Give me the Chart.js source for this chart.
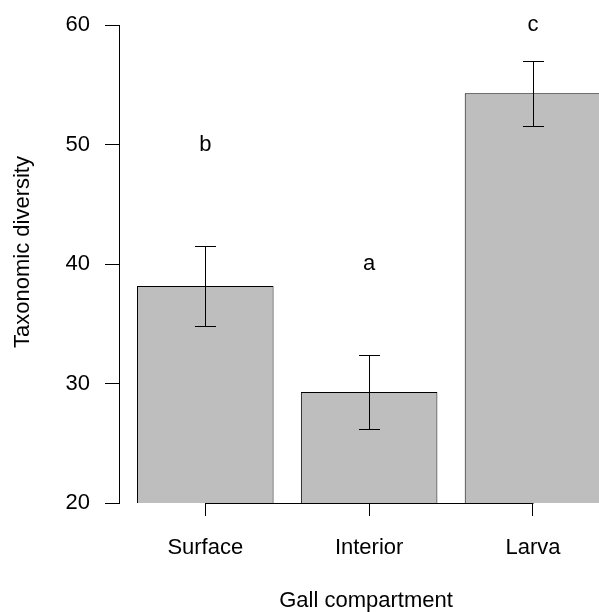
<!DOCTYPE html>
<html>
<head>
<meta charset="utf-8">
<script src="https://cdn.jsdelivr.net/npm/chart.js@4/dist/chart.umd.min.js"></script>
<style>
  html, body { margin: 0; padding: 0; background: #fff; }
  #wrap { width: 599px; height: 612px; }
</style>
</head>
<body>
<div id="wrap"><canvas id="c" width="599" height="612"></canvas></div>
<script>
// ---- data ----
const categories = ["Surface", "Interior", "Larva"];
const meanDiversity = [38.16, 29.29, 54.28];
const seDiversity = [3.32, 3.12, 2.72];
const groupLetters = ["b", "a", "c"];
const letterHeights = [50, 40, 60];
const yTicks = [20, 30, 40, 50, 60];
const xTitle = "Gall compartment";
const yTitle = "Taxonomic diversity";

// R barplot layout: width 1, space 0.2
const barPos = categories.map((c, i) => 0.7 + 1.2 * i);
const FONT = "'Liberation Sans', Arial, Helvetica, sans-serif";
const FS = 22;

const extras = {
  id: 'extras',
  afterDatasetsDraw(chart) {
    const ctx = chart.ctx;
    const xs = chart.scales.x, ys = chart.scales.y;
    ctx.save();
    ctx.strokeStyle = '#000';
    ctx.lineWidth = 1;
    // x axis line from first to last tick (R style)
    const yb = Math.round(ys.getPixelForValue(yTicks[0])) + 0.5;
    ctx.beginPath();
    ctx.moveTo(Math.round(xs.getPixelForValue(barPos[0])) + 0.5, yb);
    ctx.lineTo(Math.round(xs.getPixelForValue(barPos[barPos.length - 1])) + 0.5, yb);
    ctx.stroke();
    // error bars
    meanDiversity.forEach((m, i) => {
      const x = Math.round(xs.getPixelForValue(barPos[i])) + 0.5;
      const yt = Math.round(ys.getPixelForValue(m + seDiversity[i])) + 0.5;
      const ybt = Math.round(ys.getPixelForValue(m - seDiversity[i])) + 0.5;
      ctx.beginPath();
      ctx.moveTo(x, yt); ctx.lineTo(x, ybt);
      ctx.moveTo(x - 10.5, yt); ctx.lineTo(x + 10.5, yt);
      ctx.moveTo(x - 10.5, ybt); ctx.lineTo(x + 10.5, ybt);
      ctx.stroke();
    });
    // group letters
    ctx.fillStyle = '#000';
    ctx.font = FS + 'px ' + FONT;
    ctx.textAlign = 'center';
    ctx.textBaseline = 'middle';
    groupLetters.forEach((l, i) => {
      ctx.fillText(l, xs.getPixelForValue(barPos[i]), ys.getPixelForValue(letterHeights[i]));
    });
    // axis titles
    ctx.fillText(xTitle, 366, 601);
    ctx.save();
    ctx.translate(23, 252);
    ctx.rotate(-Math.PI / 2);
    ctx.fillText(yTitle, 0, 0);
    ctx.restore();
    ctx.restore();
  }
};

new Chart(document.getElementById('c'), {
  type: 'bar',
  data: {
    datasets: [{
      data: meanDiversity.map((v, i) => ({ x: barPos[i], y: v })),
      backgroundColor: '#BEBEBE',
      borderColor: '#000',
      borderWidth: 1,
      borderSkipped: 'start',
      categoryPercentage: 1,
      barPercentage: 1 / 1.2
    }]
  },
  options: {
    responsive: false,
    devicePixelRatio: 1,
    animation: false,
    layout: { padding: { top: 25, left: 0, right: 0, bottom: 0 } },
    plugins: { legend: { display: false }, tooltip: { enabled: false } },
    scales: {
      x: {
        type: 'linear',
        offset: false,
        min: 0.068,
        max: 3.5835,
        afterBuildTicks: (s) => { s.ticks = barPos.map(v => ({ value: v })); },
        afterFit: (s) => { s.height = 109; s.paddingLeft = 0; s.paddingRight = 0; },
        grid: { offset: false, drawOnChartArea: false, drawTicks: true, tickLength: 13, color: '#000' },
        border: { display: false },
        ticks: {
          autoSkip: false, maxRotation: 0, padding: 19, color: '#000',
          font: { family: FONT, size: FS },
          callback: (v, i) => categories[i]
        }
      },
      y: {
        min: yTicks[0],
        max: yTicks[yTicks.length - 1],
        afterBuildTicks: (s) => { s.ticks = yTicks.map(v => ({ value: v })); },
        afterFit: (s) => { s.width = 119; s.paddingTop = 0; s.paddingBottom = 0; },
        grid: { drawOnChartArea: false, drawTicks: true, tickLength: 14, color: '#000' },
        border: { display: true, color: '#000', width: 1 },
        ticks: { padding: 15, color: '#000', font: { family: FONT, size: FS } }
      }
    }
  },
  plugins: [extras]
});
</script>
</body>
</html>
